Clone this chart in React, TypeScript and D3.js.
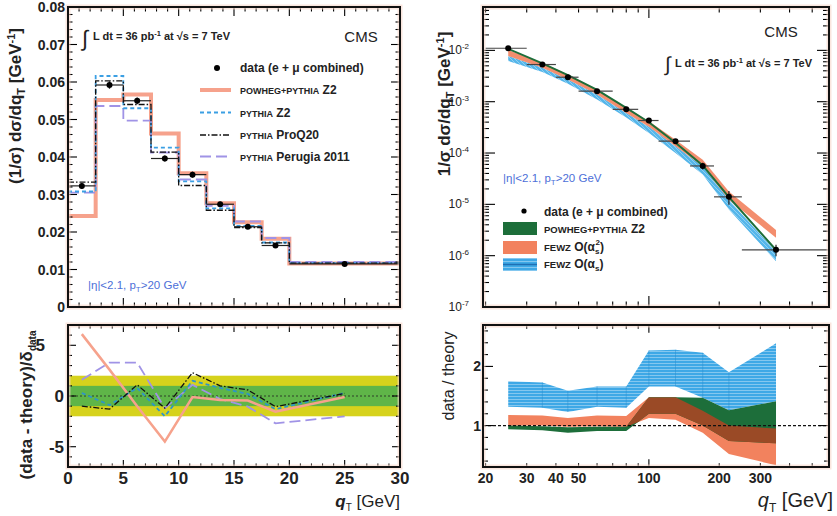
import React from "react";
import * as d3 from "d3";

// ---------------- Left panels: q_T < 30 GeV ----------------
const binEdges = [0, 2.5, 5, 7.5, 10, 12.5, 15, 17.5, 20, 30];
const binCenters = [1.25, 3.75, 6.25, 8.75, 11.25, 13.75, 16.25, 18.75, 25];
const dataLow = [0.0323, 0.0592, 0.055, 0.0396, 0.0353, 0.0274, 0.0214, 0.0164, 0.0115];
const dataLowErr = [0.0008, 0.001, 0.0009, 0.0008, 0.0008, 0.0007, 0.0006, 0.0006, 0.0003];
const powhegLow = [0.0243, 0.0552, 0.0567, 0.0463, 0.0357, 0.0277, 0.0226, 0.0182, 0.0116];
const pythiaZ2Low = [0.0308, 0.0616, 0.053, 0.0425, 0.0335, 0.0263, 0.0216, 0.0172, 0.0117];
const proQ20Low = [0.0333, 0.0603, 0.054, 0.0413, 0.0324, 0.0258, 0.0212, 0.0171, 0.0117];
const perugiaLow = [0.0305, 0.0536, 0.0497, 0.0412, 0.034, 0.027, 0.0228, 0.0184, 0.012];

const powhegPull = [6.1, 2.6, -1.0, -4.5, -0.1, -0.4, -0.45, -1.55, -0.1];
const pythiaZ2Pull = [0.3, -0.9, 0.8, -2.0, 1.5, 0.8, 0.2, -1.3, 0.3];
const proQ20Pull = [-1.0, -1.3, 1.1, -1.2, 2.3, 1.0, 0.6, -1.05, 0.25];
const perugiaPull = [1.6, 3.3, 3.3, -1.2, 1.1, -0.3, -1.05, -2.7, -2.0];

const leftYTicks = [0, 0.01, 0.02, 0.03, 0.04, 0.05, 0.06, 0.07, 0.08];
const leftYLabels = ["0", "0.01", "0.02", "0.03", "0.04", "0.05", "0.06", "0.07", "0.08"];
const leftXTicks = [0, 5, 10, 15, 20, 25, 30];
const pullTicks = [-5, 0, 5];

// ---------------- Right panels: q_T > 20 GeV ----------------
const qtCenters = [25, 35, 45, 60, 80, 100, 130, 170, 220, 350];
const qtLo = [20, 30, 40, 50, 70, 90, 110, 150, 190, 250];
const qtHi = [30, 40, 50, 70, 90, 110, 150, 190, 250, 600];
const dataHigh = [1.1e-2, 5.3e-3, 3.0e-3, 1.6e-3, 7.1e-4, 4.3e-4, 1.7e-4, 5.6e-5, 1.4e-5, 1.3e-6];
const dataHighErrRel = [0.03, 0.03, 0.03, 0.03, 0.04, 0.05, 0.08, 0.15, 0.3, 0.25];
const powhegHigh = [1.07e-2, 5.6e-3, 3.3e-3, 1.7e-3, 7.6e-4, 3.98e-4, 1.58e-4, 5.75e-5, 1.38e-5, 1.29e-6];
const fewz2Lo = [7.8e-3, 4.6e-3, 2.7e-3, 1.38e-3, 6.0e-4, 3.24e-4, 1.35e-4, 5.5e-5, 1.23e-5, 2.24e-6];
const fewz2Hi = [1.02e-2, 5.75e-3, 3.4e-3, 1.74e-3, 7.6e-4, 4.17e-4, 1.82e-4, 7.4e-5, 1.78e-5, 3.16e-6];
const fewz1Lo = [6.2e-3, 3.8e-3, 2.24e-3, 1.1e-3, 4.9e-4, 2.45e-4, 1.0e-4, 3.8e-5, 7.9e-6, 7.8e-7];
const fewz1Hi = [7.8e-3, 4.6e-3, 2.7e-3, 1.38e-3, 6.0e-4, 3.24e-4, 1.35e-4, 5.5e-5, 1.23e-5, 1.2e-6];

const fewz1RatioLo = [1.32, 1.3, 1.23, 1.32, 1.3, 1.66, 1.66, 1.47, 1.26, 1.41];
const fewz1RatioHi = [1.75, 1.73, 1.59, 1.66, 1.66, 2.27, 2.28, 2.23, 1.9, 2.39];
const fewz2RatioLo = [1.0, 1.0, 0.98, 0.99, 0.98, 1.13, 1.1, 0.88, 0.52, 0.33];
const fewz2RatioHi = [1.18, 1.17, 1.13, 1.17, 1.16, 1.48, 1.48, 1.25, 1.0, 0.95];
const powhegRatioLo = [0.94, 0.92, 0.88, 0.91, 0.91, 1.2, 1.2, 1.0, 0.74, 0.7];
const powhegRatioHi = [1.0, 0.99, 0.97, 0.98, 0.98, 1.48, 1.48, 1.47, 1.26, 1.41];

const rightXLabels = [20, 30, 40, 50, 100, 200, 300];
const rightYDecades = [-7, -6, -5, -4, -3, -2];
const ratioTicks = [1, 2];

const FONT = "'Liberation Sans', Arial, Helvetica, sans-serif";
const C_POW = "#f6a28c";
const C_Z2 = "#3b9fe3";
const C_PRO = "#111";
const C_PER = "#a093e6";
const C_CUT = "#4d6fd8";
const C_GREEN = "#1d6e3a";
const C_ORANGE = "#f2825e";
const C_BLUE = "#3ea8e6";

type Tk = { p: number; len: number };

function Frame({ x0, x1, y0, y1, xt, yt }: { x0: number; x1: number; y0: number; y1: number; xt: Tk[]; yt: Tk[] }) {
  return (
    <g>
      {xt.map((t, i) => (
        <g key={"x" + i}>
          <line x1={t.p} x2={t.p} y1={y1} y2={y1 - t.len} stroke="#000" strokeWidth={1.1} />
          <line x1={t.p} x2={t.p} y1={y0} y2={y0 + t.len} stroke="#000" strokeWidth={1.1} />
        </g>
      ))}
      {yt.map((t, i) => (
        <g key={"y" + i}>
          <line x1={x0} x2={x0 + t.len} y1={t.p} y2={t.p} stroke="#000" strokeWidth={1.1} />
          <line x1={x1} x2={x1 - t.len} y1={t.p} y2={t.p} stroke="#000" strokeWidth={1.1} />
        </g>
      ))}
      <rect x={x0} y={y0} width={x1 - x0} height={y1 - y0} fill="none" stroke="#f7d6c8" strokeWidth={5} opacity={0.6} />
      <rect x={x0} y={y0} width={x1 - x0} height={y1 - y0} fill="none" stroke="#111" strokeWidth={2} />
    </g>
  );
}

export default function App() {
  const xL = d3.scaleLinear().domain([0, 30]).range([68, 400]);
  const yLT = d3.scaleLinear().domain([0, 0.08]).range([307, 7]);
  const yLB = d3.scaleLinear().domain([-7, 7]).range([467, 325]);
  const xR = d3.scaleLog().domain([19.5, 590]).range([483, 829]);
  const yRT = d3.scaleLog().domain([1e-7, 0.07]).range([307, 7]);
  const yRB = d3.scaleLinear().domain([0.3, 2.7]).range([467, 325]);

  const step = (vals: number[]) =>
    d3.line().curve(d3.curveStepAfter)(
      binEdges.map((e, i) => [xL(e), yLT(vals[Math.min(i, vals.length - 1)])] as [number, number])
    ) as string;
  const pullLine = (vals: number[]) =>
    d3.line()(binCenters.map((c, i) => [xL(c), yLB(vals[i])] as [number, number])) as string;

  const bandRT = (lo: number[], hi: number[]) =>
    d3
      .area<number>()
      .x((_, i) => xR(qtCenters[i]))
      .y0((_, i) => yRT(lo[i]))
      .y1((_, i) => yRT(hi[i]))(qtCenters) as string;
  const bandRB = (lo: number[], hi: number[]) =>
    d3
      .area<number>()
      .x((_, i) => xR(qtCenters[i]))
      .y0((_, i) => yRB(lo[i]))
      .y1((_, i) => yRB(hi[i]))(qtCenters) as string;
  const powLineRT = d3.line()(qtCenters.map((c, i) => [xR(c), yRT(powhegHigh[i])] as [number, number])) as string;

  // tick sets
  const ltX: Tk[] = d3.range(0, 31, 1).map((v) => ({ p: xL(v), len: v % 5 === 0 ? 9 : 4.5 }));
  const ltY: Tk[] = d3.range(0, 41, 1).map((k) => ({ p: yLT(k * 0.002), len: k % 5 === 0 ? 9 : 4.5 }));
  const lbX: Tk[] = d3.range(0, 31, 1).map((v) => ({ p: xL(v), len: v % 5 === 0 ? 7 : 3.5 }));
  const lbY: Tk[] = d3.range(-7, 8, 1).map((v) => ({ p: yLB(v), len: v % 5 === 0 ? 8 : 4 }));
  const rX: Tk[] = [];
  [20, 30, 40, 50, 60, 70, 80, 90, 100, 200, 300, 400, 500].forEach((v) =>
    rX.push({ p: xR(v), len: v === 100 ? 11 : 5.5 })
  );
  const rbX: Tk[] = rX.map((t) => ({ p: t.p, len: t.len * 0.7 }));
  const rtY: Tk[] = [];
  for (let e = -7; e <= -2; e++) {
    for (let m = 1; m <= 9; m++) {
      const v = m * Math.pow(10, e);
      if (v <= 0.07) rtY.push({ p: yRT(v), len: m === 1 ? 12 : 6 });
    }
  }
  const rbY: Tk[] = d3.range(2, 14, 1).map((k) => ({ p: yRB(k * 0.2), len: k % 5 === 0 ? 10 : 5 }));

  return (
    <svg
      width={837}
      height={516}
      style={{ position: "absolute", left: 0, top: 0, background: "#fff" }}
      fontFamily={FONT}
    >
      <defs>
        <pattern id="blueHatch" width={4} height={3} patternUnits="userSpaceOnUse">
          <rect width={4} height={3} fill={C_BLUE} />
          <line x1={0} x2={4} y1={0.5} y2={0.5} stroke="#fff" strokeWidth={0.8} opacity={0.45} />
        </pattern>
        <pattern id="blueDiag" width={4} height={4} patternUnits="userSpaceOnUse">
          <rect width={4} height={4} fill="#55b6ea" />
          <line x1={0} y1={0} x2={4} y2={4} stroke="#fff" strokeWidth={0.7} opacity={0.5} />
        </pattern>
        <clipPath id="greenClip">
          <path d={bandRB(powhegRatioLo, powhegRatioHi)} />
        </clipPath>
      </defs>

      {/* ================= LEFT TOP ================= */}
      <g>
        <path d={step(powhegLow)} fill="none" stroke={C_POW} strokeWidth={4} />
        <path d={step(perugiaLow)} fill="none" stroke={C_PER} strokeWidth={1.8} strokeDasharray="11,5" />
        <path d={step(pythiaZ2Low)} fill="none" stroke={C_Z2} strokeWidth={1.8} strokeDasharray="4,3" />
        <path d={step(proQ20Low)} fill="none" stroke={C_PRO} strokeWidth={1.3} strokeDasharray="6,2,1.5,2" />
        {dataLow.map((v, i) => (
          <g key={i}>
            <line x1={xL(binEdges[i])} x2={xL(binEdges[i + 1])} y1={yLT(v)} y2={yLT(v)} stroke="#222" strokeWidth={1.2} />
            <line x1={xL(binCenters[i])} x2={xL(binCenters[i])} y1={yLT(v - dataLowErr[i])} y2={yLT(v + dataLowErr[i])} stroke="#222" strokeWidth={1.3} />
            <circle cx={xL(binCenters[i])} cy={yLT(v)} r={3} fill="#000" />
          </g>
        ))}
        <Frame x0={68} x1={400} y0={7} y1={307} xt={ltX} yt={ltY} />
        {leftYTicks.map((v, i) => (
          <text key={i} x={65} y={yLT(v) + 5} textAnchor="end" fontSize={14} fontWeight="bold" fill="#222">
            {leftYLabels[i]}
          </text>
        ))}
        <text transform="translate(21,106) rotate(-90)" textAnchor="middle" fontSize={17} fontWeight="bold" fill="#222">
          (1/σ) dσ/dq<tspan fontSize={11} dy={4}>T</tspan>
          <tspan dy={-4}> [GeV</tspan>
          <tspan fontSize={11} dy={-6}>-1</tspan>
          <tspan dy={6}>]</tspan>
        </text>
        {/* lumi & CMS */}
        <text x={82} y={46} fontSize={22} fill="#222">∫</text>
        <text x={93} y={40} fontSize={11} fontWeight="bold" fill="#222">
          L dt = 36 pb<tspan fontSize={7.5} dy={-4}>-1</tspan>
          <tspan dy={4}> at √s = 7 TeV</tspan>
        </text>
        <text x={361} y={42} textAnchor="middle" fontSize={15} fill="#222">CMS</text>
        {/* legend */}
        <circle cx={217} cy={68} r={3} fill="#000" />
        <text x={240} y={72} fontSize={12} fontWeight="bold" fill="#222">data (e + μ combined)</text>
        <line x1={200} x2={231} y1={90} y2={90} stroke={C_POW} strokeWidth={4} />
        <text x={240} y={94} fontSize={12} fontWeight="bold" fill="#222">
          <tspan fontSize={9}>POWHEG+PYTHIA</tspan> Z2
        </text>
        <line x1={200} x2={231} y1={112.5} y2={112.5} stroke={C_Z2} strokeWidth={1.8} strokeDasharray="4,3" />
        <text x={240} y={116.5} fontSize={12} fontWeight="bold" fill="#222">
          <tspan fontSize={9}>PYTHIA</tspan> Z2
        </text>
        <line x1={200} x2={231} y1={135} y2={135} stroke={C_PRO} strokeWidth={1.3} strokeDasharray="6,2,1.5,2" />
        <text x={240} y={139} fontSize={12} fontWeight="bold" fill="#222">
          <tspan fontSize={9}>PYTHIA</tspan> ProQ20
        </text>
        <line x1={200} x2={231} y1={156.5} y2={156.5} stroke={C_PER} strokeWidth={1.8} strokeDasharray="11,5" />
        <text x={240} y={160.5} fontSize={12} fontWeight="bold" fill="#222">
          <tspan fontSize={9}>PYTHIA</tspan> Perugia 2011
        </text>
        <text x={88} y={289} fontSize={11.5} fill={C_CUT}>
          |η|&lt;2.1, p<tspan fontSize={8} dy={3}>T</tspan>
          <tspan dy={-3}>&gt;20 GeV</tspan>
        </text>
      </g>

      {/* ================= LEFT BOTTOM ================= */}
      <g>
        <rect x={68} width={332} y={yLB(2)} height={yLB(-2) - yLB(2)} fill="#d6d21c" />
        <rect x={68} width={332} y={yLB(1)} height={yLB(-1) - yLB(1)} fill="#5fb548" />
        <line x1={68} x2={400} y1={yLB(0)} y2={yLB(0)} stroke="#222" strokeWidth={0.8} strokeDasharray="2,2" />
        <path d={pullLine(perugiaPull)} fill="none" stroke={C_PER} strokeWidth={1.8} strokeDasharray="11,5" />
        <path d={pullLine(powhegPull)} fill="none" stroke={C_POW} strokeWidth={2.5} />
        <path d={pullLine(pythiaZ2Pull)} fill="none" stroke="#2e95c8" strokeWidth={1.8} strokeDasharray="4,3" />
        <path d={pullLine(proQ20Pull)} fill="none" stroke={C_PRO} strokeWidth={1.3} strokeDasharray="6,2,1.5,2" />
        <Frame x0={68} x1={400} y0={325} y1={467} xt={lbX} yt={lbY} />
        {pullTicks.map((v) => (
          <text key={v} x={v === 5 ? 45 : 64} y={yLB(v) + 6} textAnchor="end" fontSize={17} fontWeight="bold" fill="#222">
            {v}
          </text>
        ))}
        {leftXTicks.map((v) => (
          <text key={v} x={xL(v)} y={484} textAnchor="middle" fontSize={17} fontWeight="bold" fill="#222">
            {v}
          </text>
        ))}
        <text x={400} y={507} textAnchor="end" fontSize={17} fill="#222">
          <tspan fontStyle="italic" fontWeight="bold">q</tspan>
          <tspan fontSize={10} dy={4}>T</tspan>
          <tspan dy={-4}> [GeV]</tspan>
        </text>
        <text transform="translate(32,405) rotate(-90)" textAnchor="middle" fontSize={17} fontWeight="bold" fill="#222">
          (data - theory)/δ<tspan fontSize={10} dy={4}>data</tspan>
        </text>
      </g>

      {/* ================= RIGHT TOP ================= */}
      <g>
        <path d={bandRT(fewz1Lo, fewz1Hi)} fill="url(#blueDiag)" />
        <path d={bandRT(fewz2Lo, fewz2Hi)} fill={C_ORANGE} opacity={0.9} />
        <path d={powLineRT} fill="none" stroke={C_GREEN} strokeWidth={2} />
        {dataHigh.map((v, i) => (
          <g key={i}>
            <line x1={xR(qtLo[i])} x2={Math.min(xR(qtHi[i]), 829)} y1={yRT(v)} y2={yRT(v)} stroke="#444" strokeWidth={1.2} />
            <line x1={xR(qtCenters[i])} x2={xR(qtCenters[i])} y1={yRT(v * (1 - dataHighErrRel[i]))} y2={yRT(v * (1 + dataHighErrRel[i]))} stroke="#222" strokeWidth={1.2} />
            <circle cx={xR(qtCenters[i])} cy={yRT(v)} r={3} fill="#000" />
          </g>
        ))}
        <Frame x0={483} x1={829} y0={7} y1={307} xt={rX} yt={rtY} />
        {rightYDecades.map((e) => (
          <text key={e} x={469} y={yRT(Math.pow(10, e)) + 4} textAnchor="end" fontSize={12} fill="#222">
            10<tspan fontSize={8} dy={-5}>{e}</tspan>
          </text>
        ))}
        <text transform="translate(450,104) rotate(-90)" textAnchor="middle" fontSize={17} fontWeight="bold" fill="#222">
          1/σ dσ/dq<tspan fontSize={11} dy={4}>T</tspan>
          <tspan dy={-4}> [GeV</tspan>
          <tspan fontSize={11} dy={-6}>-1</tspan>
          <tspan dy={6}>]</tspan>
        </text>
        <text x={781} y={37} textAnchor="middle" fontSize={15} fill="#222">CMS</text>
        <text x={665} y={71} fontSize={20} fill="#222">∫</text>
        <text x={675} y={67} fontSize={11} fontWeight="bold" fill="#222">
          L dt = 36 pb<tspan fontSize={7.5} dy={-4}>-1</tspan>
          <tspan dy={4}> at √s = 7 TeV</tspan>
        </text>
        <text x={503} y={182} fontSize={11.5} fill={C_CUT}>
          |η|&lt;2.1, p<tspan fontSize={8} dy={3}>T</tspan>
          <tspan dy={-3}>&gt;20 GeV</tspan>
        </text>
        {/* legend */}
        <circle cx={524} cy={211} r={2.6} fill="#000" />
        <text x={544} y={215.5} fontSize={12} fontWeight="bold" fill="#222">data (e + μ combined)</text>
        <rect x={503} y={222} width={34} height={13} fill={C_GREEN} />
        <text x={544} y={233} fontSize={12} fontWeight="bold" fill="#222">
          <tspan fontSize={9.5}>POWHEG+PYTHIA</tspan> Z2
        </text>
        <rect x={503} y={241} width={34} height={13} fill={C_ORANGE} />
        <text x={544} y={251} fontSize={12} fontWeight="bold" fill="#222">
          <tspan fontSize={9.5}>FEWZ</tspan> O(α<tspan fontSize={8} dy={3}>s</tspan>
          <tspan fontSize={8} dy={-9} dx={-4}>2</tspan>
          <tspan dy={6}>)</tspan>
        </text>
        <rect x={503} y={258} width={34} height={13} fill="url(#blueHatch)" />
        <line x1={503} x2={537} y1={264.5} y2={264.5} stroke="#1f6fb4" strokeWidth={1.5} />
        <text x={544} y={268} fontSize={12} fontWeight="bold" fill="#222">
          <tspan fontSize={9.5}>FEWZ</tspan> O(α<tspan fontSize={8} dy={3}>s</tspan>
          <tspan dy={-3}>)</tspan>
        </text>
      </g>

      {/* ================= RIGHT BOTTOM ================= */}
      <g>
        <path d={bandRB(fewz1RatioLo, fewz1RatioHi)} fill="url(#blueHatch)" />
        {qtCenters.slice(1, 9).map((c, i) => (
          <line key={i} x1={xR(c)} x2={xR(c)} y1={yRB(fewz1RatioLo[i + 1])} y2={yRB(fewz1RatioHi[i + 1])} stroke="#2a8fd0" strokeWidth={0.8} opacity={0.6} />
        ))}
        <path d={bandRB(fewz2RatioLo, fewz2RatioHi)} fill={C_ORANGE} />
        <path d={bandRB(powhegRatioLo, powhegRatioHi)} fill={C_GREEN} />
        <path d={bandRB(fewz2RatioLo, fewz2RatioHi)} fill="#9a4a26" clipPath="url(#greenClip)" />
        <line x1={483} x2={829} y1={yRB(1)} y2={yRB(1)} stroke="#111" strokeWidth={1.3} strokeDasharray="3,2" />
        <Frame x0={483} x1={829} y0={325} y1={467} xt={rbX} yt={rbY} />
        {ratioTicks.map((v) => (
          <text key={v} x={481} y={yRB(v) + 5} textAnchor="end" fontSize={14} fontWeight="bold" fill="#222">
            {v}
          </text>
        ))}
        {rightXLabels.map((v) => (
          <text key={v} x={xR(v)} y={483} textAnchor="middle" fontSize={14} fontWeight="bold" fill="#222">
            {v}
          </text>
        ))}
        <text x={833} y={507} textAnchor="end" fontSize={20} fill="#222">
          <tspan fontStyle="italic">q</tspan>
          <tspan fontSize={12} dy={5}>T</tspan>
          <tspan dy={-5}> [GeV]</tspan>
        </text>
        <text transform="translate(454,376) rotate(-90)" textAnchor="middle" fontSize={16} fill="#222">
          data / theory
        </text>
      </g>
    </svg>
  );
}
